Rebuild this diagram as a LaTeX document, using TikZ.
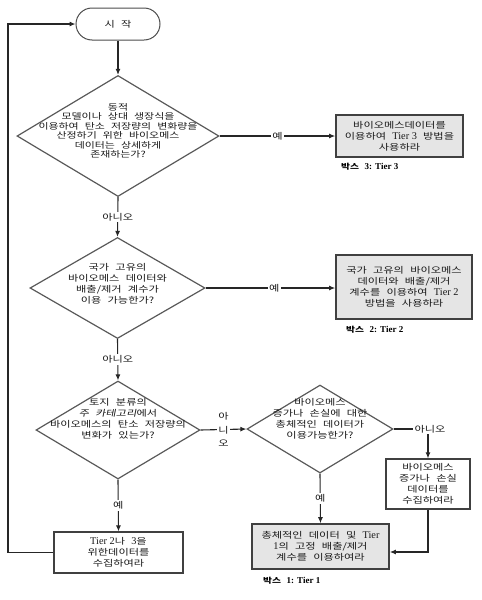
\documentclass[tikz,border=0pt]{standalone}
\usepackage{fontspec}
\setmainfont{Liberation Serif}[Scale=1.2]
\newfontfamily\kr[FakeStretch=1.3, WordSpace=2.5, ItalicFont={Noto Sans CJK KR}, ItalicFeatures={FakeSlant=0.2}]{Noto Sans CJK KR}
\usetikzlibrary{positioning, shapes.geometric, arrows.meta}
\newcommand{\la}[1]{{\rmfamily #1}}

\begin{document}
\begin{tikzpicture}
    [
      x=1pt, y=-1pt,
      every node/.style = {font=\kr\fontsize{8.6}{11}\selectfont, align=center, text=black!90},
      terminal/.style = {rectangle, draw=black!70, line width=1pt, rounded corners=16pt, minimum width=84pt, minimum height=32pt},
      decision/.style = {diamond, draw=black!65, line width=1.2pt, inner sep=0pt},
      process/.style = {rectangle, draw=black!75, line width=1.2pt, inner sep=0pt},
      tierbox/.style = {rectangle, draw=black!75, fill=black!10, line width=1.6pt, inner sep=0pt},
      boxlabel/.style = {anchor=west, text=black, font=\kr\bfseries\fontsize{7.5}{8}\selectfont},
      elabel/.style = {fill=white, inner sep=1.5pt},
      flow/.style = {-{Latex[length=6pt,width=5pt]}, line width=1.1pt, black!85}
    ]

    \useasboundingbox (0,0) rectangle (482,600);

    \node[terminal](start) at (118,24){시 작};

    \node[decision, minimum width=202pt, minimum height=121pt](d1) at (118,136){};
    \node[font=\kr\fontsize{8.4}{9.5}\selectfont](d1t) at (118,131){동적\\모델이나 상대 생장식을\\이용하여 탄소 저장량의 변화량을\\산정하기 위한 바이오메스\\데이터는 상세하게\\존재하는가?};
    \node[tierbox, minimum width=127pt, minimum height=42pt](box3) at (399.5,136){바이오메스데이터를\\이용하여 \la{Tier 3} 방법을\\사용하라};
    \node[boxlabel](lab3) at (337,167){박스 \la{3: Tier 3}};

    \node[decision, minimum width=175pt, minimum height=101pt](d2) at (117.5,288){};
    \node(d2t) at (117.5,284){국가 고유의\\바이오메스 데이터와\\배출/제거 계수가\\이용 가능한가?};
    \node[tierbox, minimum width=136pt, minimum height=64pt](box2) at (404,287){국가 고유의 바이오메스\\데이터와 배출/제거\\계수를 이용하여 \la{Tier 2}\\방법을 사용하라};
    \node[boxlabel](lab2) at (342,330){박스 \la{2: Tier 2}};

    \node[decision, minimum width=164pt, minimum height=98pt](d3) at (118,430){};
    \node(d3t) at (118,419){토지 분류의\\\textit{주 카테고리}에서\\바이오메스의 탄소 저장량의\\변화가 있는가?};
    \node[decision, minimum width=146pt, minimum height=88pt](d4) at (320,429){};
    \node(d4t) at (320,419){바이오메스\\증가나 손실에 대한\\총체적인 데이터가\\이용가능한가?};

    \node[process, minimum width=84pt, minimum height=50pt](collectR) at (428,484){바이오메스\\증가나 손실\\데이터를\\수집하여라};
    \node[tierbox, minimum width=137pt, minimum height=45pt](box1) at (320.5,546.5){총체적인 데이터 및 \la{Tier}\\\la{1}의 고정 배출/제거\\계수를 이용하여라};
    \node[boxlabel](lab1) at (259,581){박스 \la{1: Tier 1}};
    \node[process, minimum width=129pt, minimum height=41pt](collectL) at (118.5,552.5){\la{Tier 2}나 \la{3}을\\위한데이터를\\수집하여라};

    \draw[flow] (start.south) -- (d1.north);
    \draw[flow] (d1.east) -- node[elabel](y1){예} (box3.west);
    \draw[flow] (d1.south) -- node[elabel](n1){아니오} (d2.north);
    \draw[flow] (d2.east) -- node[elabel, pos=0.53](y2){예} (box2.west |- d2.east);
    \draw[flow] (d2.south) -- node[elabel](n2){아니오} (d3.north);
    \draw[flow] (d3.east) -- node[elabel, font=\kr\fontsize{8.6}{13.5}\selectfont](n3){아\\니\\오} (d4.west);
    \draw[flow] (d3.south) -- node[elabel](y3){예} (collectL.north);
    \draw[flow] (d4.south) -- node[elabel](y4){예} (box1.north);
    \draw[flow] (d4.east) -| node[elabel, xshift=2pt](n4){아니오} (collectR.north);
    \draw[flow] (collectR.south) |- ([yshift=-5.5pt]box1.east);
    \draw[flow] (collectL.west) -- (8,552.5) |- (start.west);
\end{tikzpicture}
\end{document}
